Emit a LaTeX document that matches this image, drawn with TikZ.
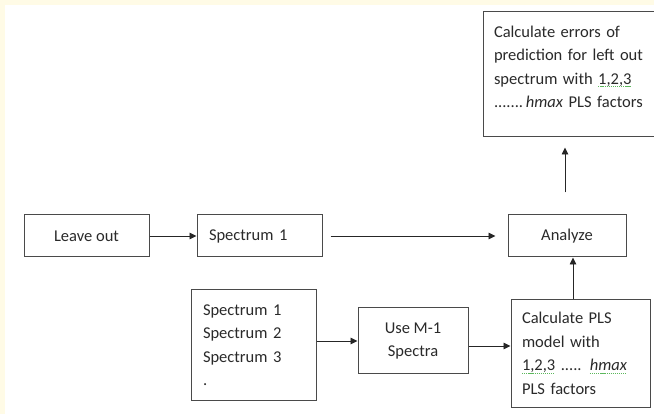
\documentclass[tikz,border=0pt]{standalone}
\usepackage{fontspec}
\setmainfont{Carlito}
\usepackage{xcolor}
\usepackage{tikz}
\usetikzlibrary{arrows.meta, positioning}

\definecolor{cream}{HTML}{FFFBE6}
\definecolor{boxgray}{HTML}{4A4A4A}
\definecolor{textgray}{HTML}{2A2A2A}
\definecolor{spellgreen}{HTML}{5CB85C}

% green spell-check underline
\newsavebox{\spellbox}
\newcommand{\spellmark}[1]{\leavevmode\sbox{\spellbox}{#1}\rlap{\raisebox{-0.35ex}{\textcolor{spellgreen}{\hbox to \wd\spellbox{\xleaders\hbox{\rule{1.2pt}{0.7pt}\kern0.8pt}\hfill}}}}\usebox{\spellbox}}

\begin{document}
\begin{tikzpicture}[
  x=1pt, y=-1pt,
  block/.style={draw=boxgray, line width=1pt, rectangle, text=textgray, inner xsep=11pt,
    font=\fontsize{16.5}{23.5}\selectfont},
  arr/.style={-{Triangle[length=7pt, width=6.5pt]}, line width=0.9pt, draw=black!85}
]
  \fill[cream] (0,0) rectangle (654,414);
  \fill[white] (5,5) rectangle (654,414);
  \useasboundingbox (0,0) rectangle (654,414);

  \node[block, minimum width=125pt, minimum height=42pt, align=center] (leave) at (86.5,236) {Leave out};
  \node[block, right=47pt of leave, minimum height=42pt, text width=101pt, inner xsep=12pt, align=left] (spec1) {Spectrum 1};
  \node[block, right=185pt of spec1, minimum width=118pt, minimum height=42pt, align=center] (analyze) {Analyze};
  \node[block, above=77pt of analyze.north west, anchor=south west, xshift=-25pt,
    text width=170pt, minimum height=125pt, align=left] (errors)
    {Calculate errors of\\prediction for left out\\spectrum with \spellmark{1,2,3}\\\mbox{.......\,\textit{hmax} PLS factors}\\[-8pt]\mbox{}};

  \node[block, below=32pt of spec1, xshift=-6pt, text width=101pt, inner xsep=12pt,
    minimum height=110pt, align=left] (spectra) {Spectrum 1\\Spectrum 2\\Spectrum 3\\.};
  \node[block, right=41pt of spectra, yshift=4pt, minimum width=110pt, minimum height=66pt,
    align=center] (usem) {Use M-1\\Spectra};
  \node[block, right=42pt of usem, yshift=-12.5pt, text width=117pt, minimum height=107pt,
    align=left] (pls) {Calculate PLS\\model with\\\spellmark{1,2,3} ..... \spellmark{\textit{hmax}}\\PLS factors};

  \draw[arr] (leave) -- (spec1);
  \draw[arr, shorten <=8pt, shorten >=12pt] (spec1) -- (analyze);
  \draw[arr, shorten <=22pt, shorten >=10pt] ([xshift=-2pt]analyze.north) -- ([xshift=-2pt]analyze.north |- errors.south);
  \draw[arr] (usem -| spectra.east) -- (usem.west);
  \draw[arr] ([yshift=-5pt]usem.east) -- ([yshift=-5pt]usem.east -| pls.west);
  \draw[arr] ([xshift=6pt]analyze.south |- pls.north) -- ([xshift=6pt]analyze.south);
\end{tikzpicture}
\end{document}
